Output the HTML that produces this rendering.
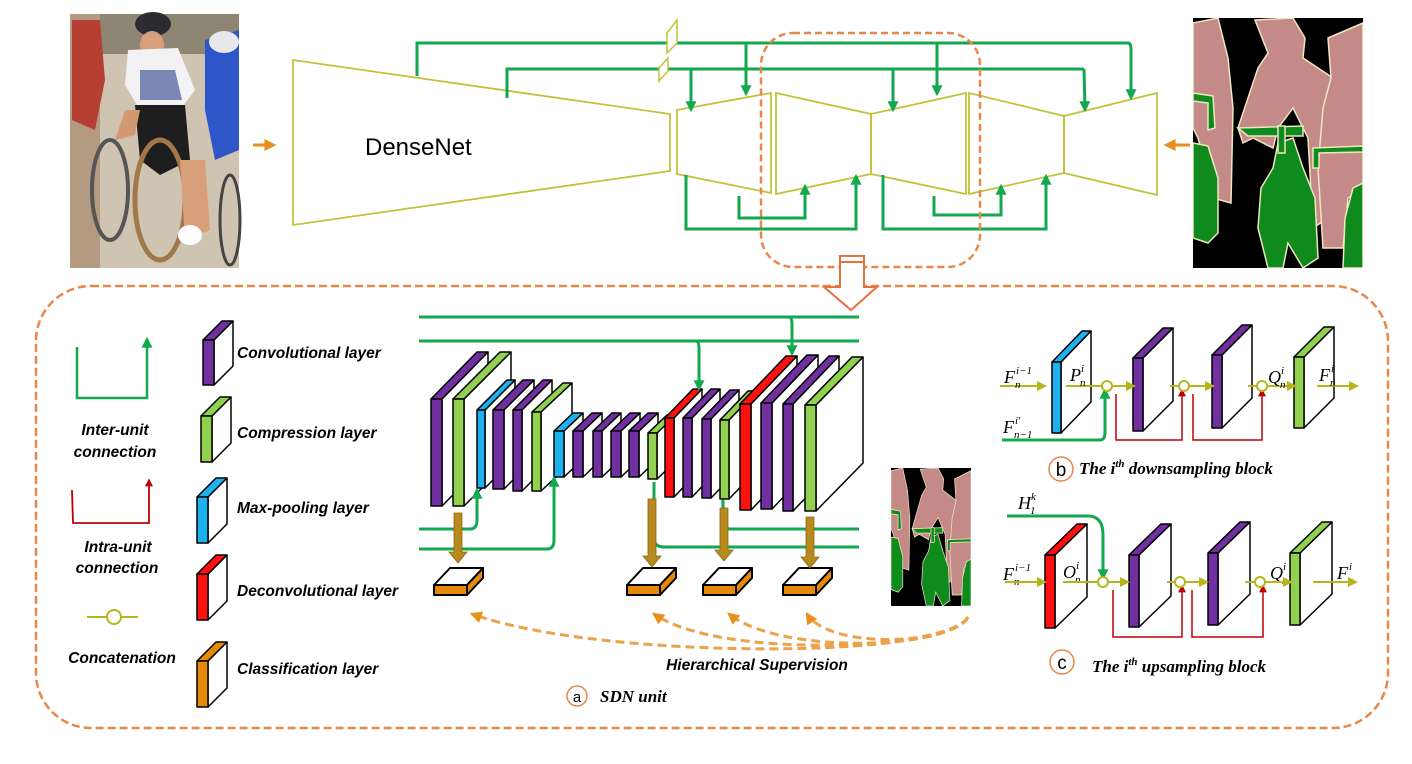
<!DOCTYPE html>
<html><head><meta charset="utf-8"><style>
html,body{margin:0;padding:0;background:#fff;}
svg{display:block;}
.lb{font-family:"Liberation Sans",sans-serif;font-weight:bold;font-style:italic;font-size:15.5px;fill:#000;}
.mt{font-family:"Liberation Serif",serif;font-style:italic;font-size:18px;fill:#000;}
.ms{font-family:"Liberation Serif",serif;font-style:italic;font-size:11px;fill:#000;}
.tt{font-family:"Liberation Serif",serif;font-weight:bold;font-style:italic;font-size:17px;fill:#000;}
</style></head><body>
<svg id="s" width="1412" height="764" viewBox="0 0 1412 764" xmlns="http://www.w3.org/2000/svg">
<defs>
<marker id="ag" viewBox="0 0 10 10" refX="8" refY="5" markerUnits="userSpaceOnUse" markerWidth="12" markerHeight="11" orient="auto"><path d="M0,0 L10,5 L0,10 z" fill="#13a84f"/></marker>
<marker id="ar" viewBox="0 0 10 10" refX="8" refY="5" markerUnits="userSpaceOnUse" markerWidth="9" markerHeight="8" orient="auto"><path d="M0,0 L10,5 L0,10 z" fill="#c00000"/></marker>
<marker id="ay" viewBox="0 0 10 10" refX="8" refY="5" markerUnits="userSpaceOnUse" markerWidth="11" markerHeight="10" orient="auto"><path d="M0,0 L10,5 L0,10 z" fill="#b5b51c"/></marker>
<marker id="ao" viewBox="0 0 10 10" refX="8" refY="5" markerUnits="userSpaceOnUse" markerWidth="13" markerHeight="12" orient="auto"><path d="M0,0 L10,5 L0,10 z" fill="#e8901c"/></marker>
<symbol id="seg" viewBox="0 0 170 250" preserveAspectRatio="none">
<rect width="170" height="250" fill="#000"/>
<g fill="#c48a88" stroke="#efe6c0" stroke-width="1.5">
<path d="M0,5 L25,0 L35,40 L40,90 L38,185 L20,180 L5,120 L0,110 z"/>
<path d="M62,2 L100,0 L112,20 L110,40 L140,60 L150,100 L145,160 L135,200 L120,210 L115,120 L100,90 L85,110 L80,130 L60,120 L50,125 L45,110 L55,80 L65,50 L75,35 z"/>
<path d="M135,20 L170,5 L170,170 L155,180 L150,230 L130,230 L125,150 L130,90 L138,60 z"/>
</g>
<g fill="#0f8a1c" stroke="#efe6c0" stroke-width="1.5">
<path d="M0,125 L15,128 L25,160 L25,215 L15,225 L0,220 z"/>
<path d="M85,125 L100,120 L110,150 L122,180 L125,240 L110,250 L95,225 L90,250 L75,250 L65,210 L68,170 L80,150 z"/>
<path d="M160,170 L170,165 L170,250 L150,250 L152,200 z"/>
<path d="M45,110 L110,108 L110,118 L55,118 z"/>
<path d="M85,108 L92,108 L92,135 L85,135 z"/>
<path d="M0,75 L20,78 L22,110 L15,112 L15,85 L0,83 z"/>
<path d="M120,130 L170,128 L170,134 L126,135 L126,150 L120,150 z"/>
</g>
</symbol>
</defs>

<!-- photo -->
<g>
<rect x="70" y="14" width="169" height="254" fill="#cfc4b2"/>
<rect x="70" y="14" width="169" height="40" fill="#8f8574"/>
<rect x="70" y="14" width="30" height="254" fill="#b49a80"/>
<ellipse cx="153" cy="24" rx="18" ry="12" fill="#2b2b30"/>
<ellipse cx="152" cy="45" rx="12" ry="14" fill="#d8a07a"/>
<path d="M128,50 L178,48 L195,90 L180,110 L140,110 L125,85 z" fill="#f2f2f5"/>
<path d="M140,70 L175,70 L182,100 L140,100 z" fill="#2c3d8a" opacity="0.6"/>
<path d="M135,105 L185,105 L190,160 L160,175 L140,160 z" fill="#1e1e1e"/>
<path d="M125,110 L140,110 L135,135 L115,140 z" fill="#d39a72"/>
<ellipse cx="160" cy="200" rx="25" ry="60" fill="none" stroke="#a0784a" stroke-width="5"/>
<ellipse cx="110" cy="190" rx="18" ry="50" fill="none" stroke="#555" stroke-width="4"/>
<path d="M205,40 L239,30 L239,150 L215,160 L205,110 z" fill="#2e56c8"/>
<ellipse cx="224" cy="42" rx="15" ry="11" fill="#e8e8ec"/>
<path d="M72,20 L100,20 L105,80 L95,130 L72,120 z" fill="#b53f32"/>
<path d="M180,160 L205,160 L210,230 L185,240 z" fill="#d8a07a"/>
<ellipse cx="190" cy="235" rx="12" ry="10" fill="#fff"/>
<ellipse cx="230" cy="220" rx="10" ry="45" fill="none" stroke="#444" stroke-width="3"/>
</g>
<line x1="253" y1="145" x2="274" y2="145" stroke="#e8901c" stroke-width="3" marker-end="url(#ao)"/>
<!-- seg -->
<use href="#seg" x="1193" y="18" width="170" height="250"/>
<line x1="1190" y1="145" x2="1166" y2="145" stroke="#e8901c" stroke-width="3" marker-end="url(#ao)"/>

<!-- DenseNet -->
<g fill="none" stroke="#c2c23a" stroke-width="1.8">
<polygon points="293,60 670,114 670,171 293,225"/>
<polygon points="677,110 771,93 771,193 677,174"/>
<polygon points="776,93 871,114 871,174 776,194"/>
<polygon points="871,114 966,93 966,194 871,174"/>
<polygon points="969,93 1064,116 1064,173 969,194"/>
<polygon points="1064,116 1157,93 1157,195 1064,173"/>
</g>
<text x="365" y="155" font-family="Liberation Sans,sans-serif" font-size="24" fill="#000">DenseNet</text>
<g fill="none" stroke="#13a84f" stroke-width="3">
<path d="M417,76 L417,43 L1128,43"/>
<path d="M1128,43 Q1131,43 1131,50 L1131,98" marker-end="url(#ag)"/>
<path d="M746,43 L746,94" marker-end="url(#ag)"/>
<path d="M937,43 L937,94" marker-end="url(#ag)"/>
<path d="M507,98 L507,69 L1084,69"/>
<path d="M1084,69 L1085,110" marker-end="url(#ag)"/>
<path d="M691,69 L691,110" marker-end="url(#ag)"/>
<path d="M893,69 L893,110" marker-end="url(#ag)"/>
<path d="M739,196 L739,218 L805,218 L805,186" marker-end="url(#ag)"/>
<path d="M686,175 L686,229 L856,229 L856,176" marker-end="url(#ag)"/>
<path d="M934,196 L934,215 L1001,215 L1001,186" marker-end="url(#ag)"/>
<path d="M883,175 L883,229 L1046,229 L1046,176" marker-end="url(#ag)"/>
</g>
<g fill="#fff" stroke="#c2c23a" stroke-width="1.5">
<polygon points="667,53 667,33 677,20 677,43"/>
<polygon points="659,81 659,68 668,58 668,71"/>
</g>
<rect x="761" y="33" width="219" height="234" rx="32" fill="none" stroke="#e8874a" stroke-width="2.5" stroke-dasharray="7,4"/>
<!-- big dashed -->
<rect x="36" y="286" width="1352" height="442" rx="55" fill="none" stroke="#e8874a" stroke-width="2.5" stroke-dasharray="8,4"/>
<g fill="#fff" stroke="#e8703a" stroke-width="2">
<polygon points="840,256 864,256 864,287 877,287 851,310 824,287 840,287"/>
<line x1="840" y1="262" x2="864" y2="262"/>
</g>

<!-- legend -->
<g fill="none" stroke-width="2.5">
<path d="M77,347 L77,398 L147,398 L147,339" stroke="#13a84f" marker-end="url(#ag)"/>
<path d="M72,490 L73,523 L149,523 L149,480" stroke="#c00000" stroke-width="1.8" marker-end="url(#ar)"/>
<line x1="87" y1="617" x2="138" y2="617" stroke="#b5b51c" stroke-width="2"/>
<circle cx="114" cy="617" r="7" stroke="#b5b51c" stroke-width="2" fill="#fff"/>
</g>
<g class="lb" text-anchor="middle">
<text x="115" y="435">Inter-unit</text><text x="115" y="457">connection</text>
<text x="118" y="552">Intra-unit</text><text x="117" y="573">connection</text>
<text x="122" y="663">Concatenation</text>
</g>
<g class="lb">
<text x="237" y="358">Convolutional layer</text>
<text x="237" y="438">Compression layer</text>
<text x="237" y="513">Max-pooling layer</text>
<text x="237" y="596">Deconvolutional  layer</text>
<text x="237" y="674">Classification layer</text>
</g>
<g id="prisms"></g>

<!-- SDN lines -->
<g fill="none" stroke="#13a84f" stroke-width="3">
<line x1="419" y1="317" x2="859" y2="317"/>
<line x1="419" y1="341" x2="859" y2="341"/>
<path d="M789,317 Q792,317 792,325 L792,354" marker-end="url(#ag)"/>
<path d="M696,341 Q699,341 699,349 L699,389" marker-end="url(#ag)"/>
<path d="M419,529 L470,529 Q477,529 477,520 L477,490" marker-end="url(#ag)"/>
<path d="M419,549 L547,549 Q554,549 554,540 L554,478" marker-end="url(#ag)"/>
<path d="M654,482 L654,538 Q654,547 664,547 L859,547"/>
<path d="M723,500 L723,522 Q723,529 731,529 L859,529"/>
</g>
<g id="brown" fill="#b8891c" stroke="#8a6510" stroke-width="0.8"></g>
<use href="#seg" x="891" y="468" width="80" height="138"/>
<g fill="none" stroke="#eba24a" stroke-width="3" stroke-dasharray="9,5">
<path d="M968,617 C950,660 600,660 472,614" marker-end="url(#ao)"/>
<path d="M968,617 C950,650 720,660 654,614" marker-end="url(#ao)"/>
<path d="M968,617 C950,650 780,655 729,614" marker-end="url(#ao)"/>
<path d="M968,617 C950,645 830,650 807,614" marker-end="url(#ao)"/>
</g>
<text class="lb" x="757" y="670" text-anchor="middle" font-size="14">Hierarchical Supervision</text>
<circle cx="577" cy="696" r="10" fill="#fff" stroke="#e8874a" stroke-width="1.5"/>
<text x="577" y="702" text-anchor="middle" font-family="Liberation Sans,sans-serif" font-size="15">a</text>
<text class="tt" x="600" y="702" font-size="16">SDN unit</text>

<!-- block b -->
<g fill="none" stroke-width="2">
<line x1="1000" y1="386" x2="1045" y2="386" stroke="#b5b51c" marker-end="url(#ay)"/>
<line x1="1066" y1="386" x2="1134" y2="386" stroke="#b5b51c" marker-end="url(#ay)"/>
<line x1="1170" y1="386" x2="1213" y2="386" stroke="#b5b51c" marker-end="url(#ay)"/>
<line x1="1248" y1="386" x2="1295" y2="386" stroke="#b5b51c" marker-end="url(#ay)"/>
<line x1="1317" y1="386" x2="1357" y2="386" stroke="#b5b51c" marker-end="url(#ay)"/>
<path d="M1002,440 L1100,440 Q1105,440 1105,432 L1105,390" stroke="#13a84f" stroke-width="3" marker-end="url(#ag)"/>
<path d="M1116,394 L1116,440 L1182,440 L1182,390" stroke="#c00000" stroke-width="1.5" marker-end="url(#ar)"/>
<path d="M1193,394 L1193,440 L1262,440 L1262,390" stroke="#c00000" stroke-width="1.5" marker-end="url(#ar)"/>
<circle cx="1107" cy="386" r="5" stroke="#b5b51c" fill="#fff"/>
<circle cx="1184" cy="386" r="5" stroke="#b5b51c" fill="#fff"/>
<circle cx="1262" cy="386" r="5" stroke="#b5b51c" fill="#fff"/>
</g>
<g id="math"></g>
<circle cx="1061" cy="469" r="12" fill="#fff" stroke="#e8874a" stroke-width="1.5"/>
<text x="1061" y="476" text-anchor="middle" font-family="Liberation Sans,sans-serif" font-size="19">b</text>
<text class="tt" x="1079" y="474">The i<tspan font-size="11" dy="-7">th</tspan><tspan dy="7"> downsampling block</tspan></text>

<!-- block c -->
<g fill="none" stroke-width="2">
<line x1="1005" y1="582" x2="1045" y2="582" stroke="#b5b51c" marker-end="url(#ay)"/>
<line x1="1063" y1="582" x2="1128" y2="582" stroke="#b5b51c" marker-end="url(#ay)"/>
<line x1="1167" y1="582" x2="1207" y2="582" stroke="#b5b51c" marker-end="url(#ay)"/>
<line x1="1245" y1="582" x2="1291" y2="582" stroke="#b5b51c" marker-end="url(#ay)"/>
<line x1="1313" y1="582" x2="1356" y2="582" stroke="#b5b51c" marker-end="url(#ay)"/>
<path d="M1007,516 L1088,516 Q1103,516 1103,535 L1103,578" stroke="#13a84f" stroke-width="3" marker-end="url(#ag)"/>
<path d="M1113,590 L1113,637 L1182,637 L1182,586" stroke="#c00000" stroke-width="1.5" marker-end="url(#ar)"/>
<path d="M1192,590 L1192,637 L1263,637 L1263,586" stroke="#c00000" stroke-width="1.5" marker-end="url(#ar)"/>
<circle cx="1103" cy="582" r="5" stroke="#b5b51c" fill="#fff"/>
<circle cx="1180" cy="582" r="5" stroke="#b5b51c" fill="#fff"/>
<circle cx="1260" cy="582" r="5" stroke="#b5b51c" fill="#fff"/>
</g>
<circle cx="1062" cy="662" r="12" fill="#fff" stroke="#e8874a" stroke-width="1.5"/>
<text x="1062" y="669" text-anchor="middle" font-family="Liberation Sans,sans-serif" font-size="19">c</text>
<text class="tt" x="1092" y="672">The i<tspan font-size="11" dy="-7">th</tspan><tspan dy="7"> upsampling block</tspan></text>
</svg>
<script>
var NS="http://www.w3.org/2000/svg",P=document.getElementById("prisms");
var C={p:"#7030a0",g:"#92d050",b:"#1fb0ee",r:"#ff1010",o:"#e48a0a"};
function poly(pts,f,sw,par){var e=document.createElementNS(NS,"polygon");e.setAttribute("points",pts.map(function(q){return q.join(",")}).join(" "));e.setAttribute("fill",f);e.setAttribute("stroke","#000");e.setAttribute("stroke-width",sw||1.5);e.setAttribute("stroke-linejoin","round");(par||P).appendChild(e);}
function pr(c,x,y,w,h,dx,dy){var f=C[c];
poly([[x+w,y],[x+w+dx,y-dy],[x+w+dx,y+h-dy],[x+w,y+h]],"#fff");
poly([[x,y],[x+w,y],[x+w+dx,y-dy],[x+dx,y-dy]],f);
poly([[x,y],[x+w,y],[x+w,y+h],[x,y+h]],f);}
pr("p",203,340,11,45,19,19);pr("g",201,416,11,46,19,19);pr("b",197,497,11,46,19,19);pr("r",197,574,11,46,19,19);pr("o",197,661,11,46,19,19);
pr("b",1052,362,9,71,30,31);pr("p",1133,358,10,73,30,30);pr("p",1212,355,10,73,30,30);pr("g",1294,357,10,71,30,30);
pr("r",1045,555,10,73,32,31);pr("p",1129,555,10,72,32,31);pr("p",1208,553,10,72,32,31);pr("g",1290,553,10,72,32,31);
var L=[["p",431,399,11,107,46,47],["g",453,399,11,107,47,47],["b",477,410,8,78,30,30],["p",493,410,11,79,30,30],["p",513,410,9,81,30,30],["g",532,412,9,79,31,29],
["b",554,431,10,46,19,18],["p",573,431,10,46,19,18],["p",593,431,9,46,19,18],["p",611,431,10,46,19,18],["p",629,431,10,46,19,18],["g",648,433,9,46,19,18],
["r",665,418,9,79,28,29],["p",683,418,9,79,28,29],["p",702,419,9,79,28,29],["g",720,420,9,79,28,29],
["r",740,404,11,106,46,48],["p",761,403,11,106,46,48],["p",783,404,10,107,46,48],["g",805,405,11,106,47,48]];
L.forEach(function(a){pr.apply(null,a)});
[434,627,703,783].forEach(function(x){var y=585;
poly([[x,y],[x+33,y],[x+49,y-17],[x+16,y-17]],"#fff",2);
poly([[x+33,y],[x+49,y-17],[x+49,y-7],[x+33,y+10]],C.o,2);
poly([[x,y],[x+33,y],[x+33,y+10],[x,y+10]],C.o,2);});
var B=document.getElementById("brown");
[[458,513,563],[652,499,567],[724,508,561],[810,517,568]].forEach(function(a){var x=a[0],y1=a[1],y2=a[2];
var e=document.createElementNS(NS,"polygon");
e.setAttribute("points",[[x-4,y1],[x+4,y1],[x+4,y2-11],[x+9,y2-11],[x,y2],[x-9,y2-11],[x-4,y2-11]].map(function(q){return q.join(",")}).join(" "));
B.appendChild(e);});
var M=document.getElementById("math");
function t(cls,x,y,s){var e=document.createElementNS(NS,"text");e.setAttribute("class",cls);e.setAttribute("x",x);e.setAttribute("y",y);e.textContent=s;M.appendChild(e);}
function m(x,y,b,sup,sub,ox){ox=ox||12;t("mt",x,y,b);t("ms",x+ox,y-9,sup);t("ms",x+ox-1,y+5,sub);}
m(1004,383,"F","i−1","n");m(1070,381,"P","i","n",11);m(1268,383,"Q","i","n",13);m(1319,381,"F","i","n");
m(1003,433,"F","i′","n−1");
m(1018,509,"H","k","1",13);m(1003,580,"F","i−1","n");m(1063,578,"O","i","n",13);m(1270,579,"Q","i","n",13);m(1337,579,"F","i","n");
</script>
</body></html>
